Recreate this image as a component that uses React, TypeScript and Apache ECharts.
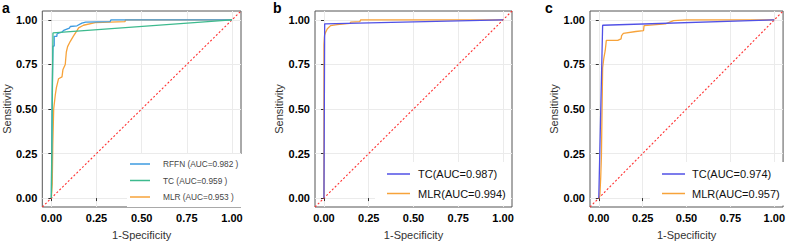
import React, { useEffect, useRef } from "react";
import * as echarts from "echarts";

type Pt = [number, number];

const tickValues = [0, 0.25, 0.5, 0.75, 1];
const diagonal: Pt[] = [[-0.05, -0.05], [1.05, 1.05]];

// Panel a
const rffnA: Pt[] = [[0, 0], [0.005, 0.6], [0.009, 0.853], [0.016, 0.853], [0.016, 0.908], [0.031, 0.908], [0.031, 0.921], [0.04, 0.926], [0.059, 0.932], [0.068, 0.941], [0.1, 0.954], [0.105, 0.963], [0.142, 0.967], [0.169, 0.982], [0.19, 0.988], [0.325, 0.99], [0.33, 1], [1, 1]];
const tcA: Pt[] = [[0, 0], [0.009, 0.927], [1, 1]];
const mlrA: Pt[] = [[0, 0], [0.005, 0.08], [0.008, 0.3], [0.013, 0.5], [0.022, 0.58], [0.028, 0.62], [0.04, 0.67], [0.059, 0.68], [0.064, 0.72], [0.077, 0.75], [0.083, 0.82], [0.09, 0.85], [0.105, 0.88], [0.123, 0.91], [0.142, 0.94], [0.151, 0.955], [0.178, 0.97], [0.243, 0.985], [0.408, 0.99], [0.41, 1], [1, 1]];

// Panel b
const tcB: Pt[] = [[0, 0], [0.004, 0.978], [1, 1]];
const mlrB: Pt[] = [[0, 0], [0, 0.86], [0.003, 0.912], [0.009, 0.93], [0.019, 0.95], [0.037, 0.968], [0.074, 0.974], [0.145, 0.98], [0.149, 0.987], [0.2, 0.99], [0.205, 1], [1, 1]];

// Panel c
const tcC: Pt[] = [[0, 0], [0.022, 0.97], [1, 1]];
const mlrC: Pt[] = [[0, 0], [0.006, 0.011], [0.011, 0.114], [0.015, 0.234], [0.022, 0.73], [0.028, 0.78], [0.037, 0.83], [0.043, 0.885], [0.108, 0.885], [0.127, 0.894], [0.13, 0.912], [0.14, 0.925], [0.211, 0.935], [0.255, 0.94], [0.258, 0.968], [0.38, 0.978], [0.426, 0.996], [0.5, 1], [1, 1]];

const namesA = ["RFFN (AUC=0.982 )", "TC (AUC=0.959 )", "MLR (AUC=0.953 )"];
const namesB = ["TC(AUC=0.987)", "MLR(AUC=0.994)"];
const namesC = ["TC(AUC=0.974)", "MLR(AUC=0.957)"];

const FONT = "Liberation Sans, Arial, sans-serif";
const BLUE_A = "#3d9be0";
const GREEN_A = "#3dba8e";
const ORANGE = "#f7a33a";
const BLUE_BC = "#5151e6";
const RED = "#ff3030";

export default function App() {
  const ref = useRef<HTMLDivElement>(null);
  useEffect(() => {
    if (!ref.current) return;
    const chart = echarts.init(ref.current, null, { renderer: "svg" });

    const grids = [
      { left: 42, top: 11, width: 199, height: 199 },
      { left: 315, top: 11, width: 197, height: 196 },
      { left: 590, top: 11, width: 196, height: 196 },
    ];

    const axisCommon = {
      type: "value",
      min: -0.05,
      max: 1.05,
      nameLocation: "middle",
      nameTextStyle: { fontSize: 11, color: "#333", fontFamily: FONT },
      axisLine: { show: false },
      axisTick: { show: true, length: 3, customValues: tickValues, lineStyle: { color: "#333" } },
      axisLabel: {
        customValues: tickValues,
        formatter: (v: number) => v.toFixed(2),
        fontWeight: "bold",
        fontSize: 11,
        color: "#000",
        fontFamily: FONT,
        margin: 5,
      },
      splitLine: { show: true, lineStyle: { color: "#ebebeb", width: 1 } },
    };

    const xAxis = grids.map((_, i) => ({ ...axisCommon, gridIndex: i, name: "1-Specificity", nameGap: 22 }));
    const yAxis = grids.map((_, i) => ({ ...axisCommon, gridIndex: i, name: "Sensitivity", nameGap: i === 0 ? 30 : 31 }));

    const line = (name: string, data: Pt[], idx: number, color: string, z = 2) => ({
      type: "line",
      name,
      data,
      xAxisIndex: idx,
      yAxisIndex: idx,
      symbol: "none",
      z,
      lineStyle: { color, width: 1.3 },
      itemStyle: { color },
      silent: true,
    });

    const diag = (idx: number) => ({
      type: "line",
      name: "diag" + idx,
      data: diagonal,
      xAxisIndex: idx,
      yAxisIndex: idx,
      symbol: "none",
      z: 1,
      lineStyle: { color: RED, width: 1.1, type: [2, 2] },
      itemStyle: { color: RED },
      silent: true,
    });

    const series = [
      diag(0),
      line(namesA[2], mlrA, 0, ORANGE, 2),
      line(namesA[0], rffnA, 0, BLUE_A, 3),
      line(namesA[1], tcA, 0, GREEN_A, 4),
      diag(1),
      line(namesB[1], mlrB, 1, ORANGE, 2),
      line(namesB[0], tcB, 1, BLUE_BC, 3),
      diag(2),
      line(namesC[1], mlrC, 2, ORANGE, 2),
      line(namesC[0], tcC, 2, BLUE_BC, 3),
    ];

    const legend = [
      {
        orient: "vertical",
        selectedMode: false,
        icon: "rect",
        data: namesA,
        left: 127,
        top: 154,
        padding: [5, 6, 5, 3],
        backgroundColor: "#fff",
        itemWidth: 20,
        itemHeight: 1.5,
        itemGap: 6.5,
        textStyle: { fontSize: 8.3, color: "#444", fontFamily: FONT, lineHeight: 10, padding: [0, 0, 0, 8] },
      },
      {
        orient: "vertical",
        selectedMode: false,
        icon: "rect",
        data: namesB,
        left: 375,
        top: 162,
        padding: [5, 5, 5, 12],
        backgroundColor: "#fff",
        itemWidth: 23,
        itemHeight: 1.5,
        itemGap: 5.5,
        textStyle: { fontSize: 11, color: "#111", fontFamily: FONT, lineHeight: 14, padding: [0, 0, 0, 3] },
      },
      {
        orient: "vertical",
        selectedMode: false,
        icon: "rect",
        data: namesC,
        left: 650,
        top: 162,
        padding: [5, 5, 5, 12],
        backgroundColor: "#fff",
        itemWidth: 23,
        itemHeight: 1.5,
        itemGap: 5.5,
        textStyle: { fontSize: 11, color: "#111", fontFamily: FONT, lineHeight: 14, padding: [0, 0, 0, 2] },
      },
    ];

    const panelLabel = (text: string, x: number) => ({
      type: "text",
      left: x,
      top: 1,
      style: { text, fontSize: 14, fontWeight: "bold", fill: "#000", fontFamily: FONT },
    });

    chart.setOption({
      animation: false,
      backgroundColor: "#fff",
      grid: grids.map((g) => ({ ...g, show: true, borderColor: "#555", borderWidth: 1, backgroundColor: "transparent" })),
      xAxis,
      yAxis,
      legend,
      series,
      graphic: [panelLabel("a", 2), panelLabel("b", 273), panelLabel("c", 545)],
    });

    return () => chart.dispose();
  }, []);

  return <div ref={ref} style={{ position: "fixed", left: 0, top: 0, width: 788, height: 245 }} />;
}
